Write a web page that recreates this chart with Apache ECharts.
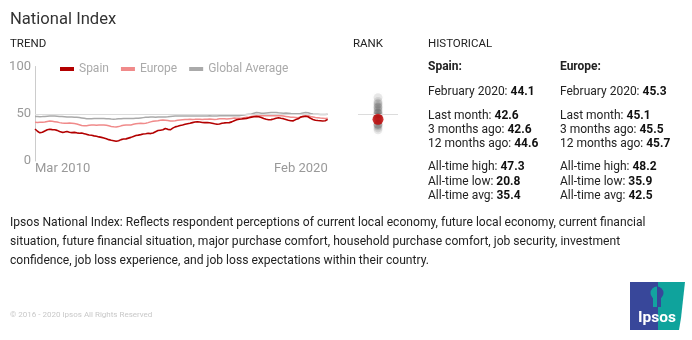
<!DOCTYPE html>
<html><head><meta charset="utf-8">
<script src="https://cdn.jsdelivr.net/npm/echarts@6/dist/echarts.min.js"></script>
<style>html,body{margin:0;padding:0;background:#fff}#c{width:692px;height:340px}</style>
</head><body><div id="c"></div>
<script>
// ---- data ----
const monthNames = ['Jan','Feb','Mar','Apr','May','Jun','Jul','Aug','Sep','Oct','Nov','Dec'];
const startYear = 2010, startMonth = 2, monthCount = 120;
const spain = [
33.9,31.5,29.8,30.5,31.8,33.0,33.6,33.2,33.0,32.4,
31.2,30.3,30.6,31.2,30.4,30.0,30.3,29.8,29.4,29.6,
28.9,28.2,27.6,27.2,26.6,26.2,25.5,25.0,24.4,23.6,
22.6,22.0,21.5,20.8,21.4,22.6,23.2,23.4,24.2,25.0,
26.0,27.0,27.4,27.9,28.6,28.9,29.3,29.0,29.6,31.0,
32.2,32.6,33.0,34.4,33.5,33.0,34.8,36.1,36.8,37.6,
38.1,38.8,39.4,39.9,40.6,41.2,41.6,41.2,40.8,40.6,
40.8,40.4,40.0,39.4,38.9,39.2,39.9,40.3,40.5,40.6,
41.4,42.6,43.6,44.2,44.4,44.8,45.1,45.8,46.4,46.9,
47.0,46.8,46.0,45.0,44.2,43.6,43.8,44.4,45.2,45.7,
45.2,44.8,44.0,43.2,42.6,42.5,43.8,44.6,46.4,47.0,
47.3,46.8,45.2,44.0,43.2,42.8,42.6,42.4,42.6,44.1];
const europe = [
40.9,40.8,40.9,41.0,41.2,41.8,42.3,42.0,41.6,41.2,
40.6,40.2,39.9,40.0,40.2,39.9,39.6,39.2,38.4,37.6,
37.2,37.4,37.8,38.0,38.0,37.9,38.0,38.1,38.0,37.8,
37.2,36.6,36.2,35.9,36.4,37.2,37.8,38.1,38.0,38.2,
38.8,39.4,39.8,39.9,39.8,40.0,40.6,41.4,42.0,42.4,
42.6,43.0,43.4,43.2,42.8,42.4,42.4,42.6,43.0,43.4,
43.6,43.8,44.0,44.1,44.0,44.1,44.3,44.2,44.0,44.2,
44.3,44.4,44.2,44.0,44.2,44.6,44.8,44.6,44.4,44.8,
45.1,45.4,45.3,45.2,45.4,45.8,46.2,46.6,47.2,47.6,
47.9,48.0,48.0,47.8,47.9,48.0,47.9,47.8,48.0,48.2,
48.0,47.6,47.2,46.8,46.4,46.2,46.0,45.7,46.6,47.4,
47.9,48.1,47.2,46.6,46.0,45.8,45.5,45.3,45.1,45.3];
const globalAvg = [
47.0,47.0,46.9,47.0,47.2,47.4,47.6,47.6,47.5,47.4,
47.2,47.0,46.8,46.6,46.6,46.5,46.4,46.2,46.0,45.6,
45.2,44.8,44.7,44.8,45.0,45.1,45.0,45.0,44.9,44.8,
44.6,44.4,44.3,44.4,44.6,44.8,45.0,45.1,45.0,45.0,
45.1,45.2,45.3,45.6,45.9,46.2,46.4,46.6,46.5,46.4,
46.5,46.6,46.6,46.5,46.7,47.0,47.3,47.5,47.6,47.5,
47.6,47.6,47.5,47.6,47.7,47.6,47.6,47.5,47.5,47.6,
47.7,47.8,47.7,47.6,47.7,47.8,47.9,47.8,47.8,47.9,
47.9,48.0,47.9,48.0,48.4,48.8,49.2,49.5,49.8,50.6,
51.4,51.0,50.6,50.6,50.8,51.0,51.2,51.4,51.3,51.0,
50.8,50.6,50.7,50.5,50.2,50.0,49.9,50.0,50.4,50.9,
51.3,51.0,50.3,49.8,49.5,49.4,49.3,49.3,49.3,49.4];
const rankValues = [67,63,61,60,58,57,56,54,53,51,50,50,48,47,46,45,43,42,39,39,38,37,35,33];
const spainNow = 44.1;
const referenceLevel = 50;
const statLabels = ['February 2020','Last month','3 months ago','12 months ago','All-time high','All-time low','All-time avg'];
const spainStats = [44.1,42.6,42.6,44.6,47.3,20.8,35.4];
const europeStats = [45.3,45.1,45.5,45.7,48.2,35.9,42.5];
const seriesNames = ['Spain','Europe','Global Average'];
const description = 'Ipsos National Index: Reflects respondent perceptions of current local economy, future local economy, current financial\nsituation, future financial situation, major purchase comfort, household purchase comfort, job security, investment\nconfidence, job loss experience, and job loss expectations within their country.';

const categories = [];
for (let i = 0; i < monthCount; i++) {
  const m = (startMonth + i) % 12, y = startYear + Math.floor((startMonth + i) / 12);
  categories.push(monthNames[m] + ' ' + y);
}

// ---- chart ----
const FONT = 'Roboto, "Noto Sans", sans-serif';
const chart = echarts.init(document.getElementById('c'), null, {renderer: 'canvas'});

const statRowsY = [91.5, 115.5, 129.5, 143.5, 167, 181.5, 195.5];
const graphics = [];
function txt(x, y, text, opts) {
  graphics.push({type: 'text', x: x, y: y, silent: true,
    style: Object.assign({text: text, fill: '#222', fontFamily: FONT, fontSize: 12, verticalAlign: 'middle', align: 'left'}, opts || {})});
}
txt(10, 20, 'National Index', {fontSize: 16.6, fill: '#333'});
txt(10, 44, 'TREND', {fontSize: 11.5});
txt(353, 44, 'RANK', {fontSize: 11.5});
txt(428, 44, 'HISTORICAL', {fontSize: 11.5});
txt(428, 67, 'Spain:', {fontWeight: 'bold'});
txt(560, 67, 'Europe:', {fontWeight: 'bold'});
const rich = {b: {fontWeight: 'bold', fontFamily: FONT, fontSize: 12, fill: '#111'}};
statLabels.forEach(function (l, i) {
  txt(428, statRowsY[i], l + ': {b|' + spainStats[i].toFixed(1) + '}', {rich: rich});
  txt(560, statRowsY[i], l + ': {b|' + europeStats[i].toFixed(1) + '}', {rich: rich});
});
txt(10, 213, description, {lineHeight: 19, verticalAlign: 'top', fontSize: 12.1});
txt(10, 315, '\u00a9 2016 - 2020 Ipsos All Rights Reserved', {fontSize: 8, fill: '#c8c8c8'});

// Ipsos logo
graphics.push({type: 'rect', shape: {x: 630, y: 282, width: 28, height: 48}, style: {fill: '#38479a'}, silent: true});
graphics.push({type: 'polygon', shape: {points: [[658,282],[685,282],[683,300],[681,318],[679,330],[658,330]]}, style: {fill: '#0fa39c'}, silent: true});
graphics.push({type: 'sector', shape: {cx: 657, cy: 293, r0: 0, r: 6.5, startAngle: Math.PI/2, endAngle: Math.PI*1.5}, style: {fill: '#13a3a0'}, silent: true});
graphics.push({type: 'sector', shape: {cx: 657, cy: 293, r0: 0, r: 6.5, startAngle: -Math.PI/2, endAngle: Math.PI/2}, style: {fill: '#38479a'}, silent: true});
graphics.push({type: 'rect', shape: {x: 653, y: 298, width: 4, height: 9}, style: {fill: '#13a3a0'}, silent: true});
graphics.push({type: 'rect', shape: {x: 657, y: 298, width: 4, height: 9}, style: {fill: '#38479a'}, silent: true});
graphics.push({type: 'text', x: 657, y: 318, silent: true, style: {text: 'Ipsos', fill: '#fff', fontFamily: FONT, fontWeight: 'bold', fontSize: 15.5, align: 'center', verticalAlign: 'middle'}});

const colors = ['#b30000', '#f08a8a', '#aaaaaa'];
const lineData = [spain, europe, globalAvg];

const option = {
  animation: false,
  textStyle: {fontFamily: FONT},
  legend: {
    data: seriesNames, left: 60, top: 63, itemWidth: 14, itemHeight: 4, itemGap: 12,
    icon: 'rect', textStyle: {color: '#aaa', fontSize: 12, fontFamily: FONT}, padding: 0
  },
  grid: [
    {left: 35, top: 66.5, width: 292.7, height: 94.5},
    {left: 358, top: 66.5, width: 40, height: 94.5}
  ],
  xAxis: [
    {type: 'category', gridIndex: 0, data: categories, boundaryGap: false,
     axisLine: {show: false}, axisTick: {show: false}, splitLine: {show: false},
     axisLabel: {interval: function (i) { return i === 0 || i === monthCount - 1; },
       alignMinLabel: 'left', alignMaxLabel: 'right',
       color: '#999', fontSize: 13, margin: 1, fontFamily: FONT}},
    {type: 'category', gridIndex: 1, data: ['Feb 2020'], show: false}
  ],
  yAxis: [
    {type: 'value', gridIndex: 0, min: 0, max: 100, interval: 50,
     axisLine: {show: true, lineStyle: {color: '#ccc', width: 1}}, axisTick: {show: false},
     splitLine: {show: false},
     axisLabel: {color: '#999', fontSize: 13, margin: 4, fontFamily: FONT}},
    {type: 'value', gridIndex: 1, min: 0, max: 100, show: false}
  ],
  series: [
    {name: seriesNames[2], type: 'line', data: lineData[2], symbol: 'none', color: colors[2],
     lineStyle: {width: 1.5, color: colors[2]}, z: 2,
     markLine: {silent: true, symbol: 'none', label: {show: false},
       lineStyle: {color: '#dcdcdc', width: 1, type: 'solid'}, data: [{yAxis: referenceLevel}]}},
    {name: seriesNames[1], type: 'line', data: lineData[1], symbol: 'none', color: colors[1],
     lineStyle: {width: 1.5, color: colors[1]}, z: 3},
    {name: seriesNames[0], type: 'line', data: lineData[0], symbol: 'none', color: colors[0],
     lineStyle: {width: 1.6, color: colors[0]}, z: 4},
    {type: 'scatter', xAxisIndex: 1, yAxisIndex: 1, data: rankValues.map(function (v) { return [0, v]; }),
     symbolSize: 9, itemStyle: {color: 'rgba(0,0,0,0.11)', shadowBlur: 5, shadowColor: 'rgba(0,0,0,0.25)'},
     markLine: {silent: true, symbol: 'none', label: {show: false},
       lineStyle: {color: '#dcdcdc', width: 1, type: 'solid'}, data: [{yAxis: referenceLevel}]}},
    {type: 'scatter', xAxisIndex: 1, yAxisIndex: 1, data: [[0, spainNow]], symbolSize: 11,
     itemStyle: {color: '#c40000'}, z: 5}
  ],
  graphic: graphics
};
chart.setOption(option);
</script>
</body></html>
